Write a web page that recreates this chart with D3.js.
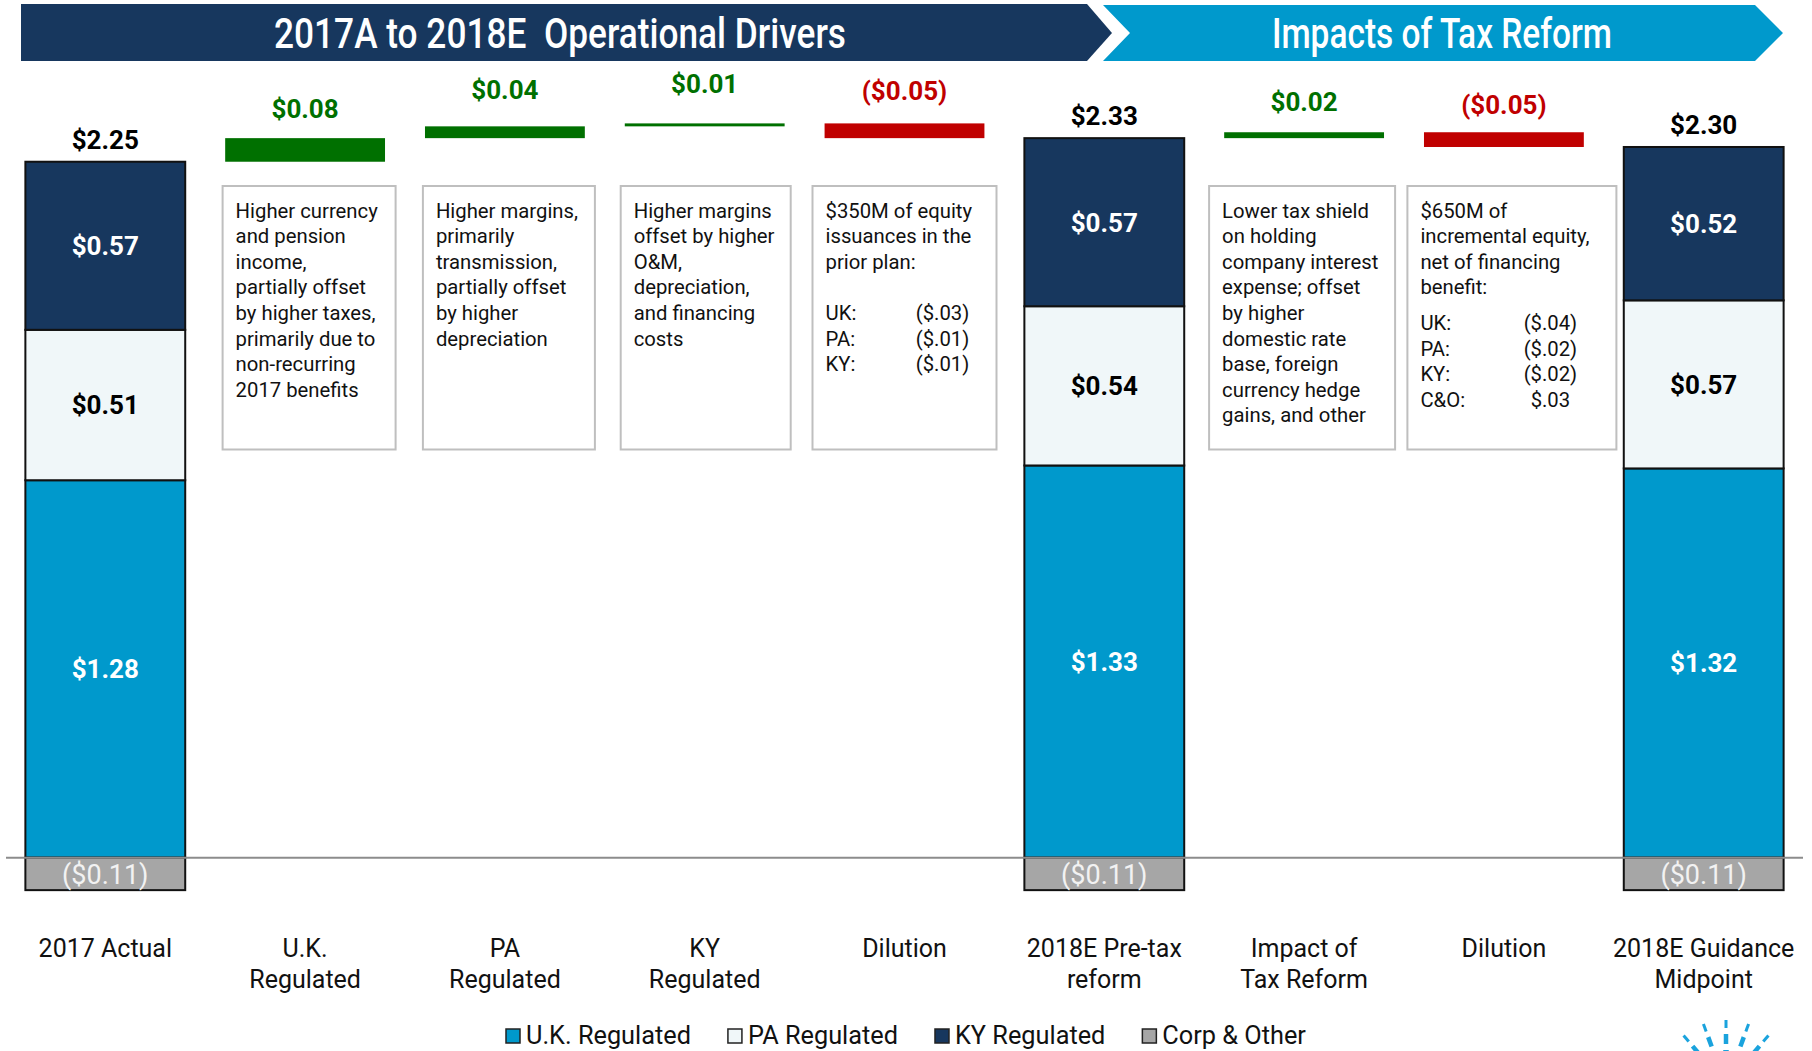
<!DOCTYPE html>
<html>
<head>
<meta charset="utf-8">
<script src="https://cdn.jsdelivr.net/npm/d3@7"></script>
<style>
  html, body { margin: 0; padding: 0; background: #fff; }
  svg { display: block; font-family: Roboto, "Open Sans", sans-serif; }
</style>
</head>
<body>
<svg id="chart" width="1812" height="1051"></svg>
<script>
// ---------------- DATA ----------------
const categoryLines = [
  ["2017 Actual"],
  ["U.K.", "Regulated"],
  ["PA", "Regulated"],
  ["KY", "Regulated"],
  ["Dilution"],
  ["2018E Pre-tax", "reform"],
  ["Impact of", "Tax Reform"],
  ["Dilution"],
  ["2018E Guidance", "Midpoint"]
];
// stacked (total) bars
const totalIndex   = [0, 5, 8];
const ukRegulated  = [1.28, 1.33, 1.32];
const paRegulated  = [0.51, 0.54, 0.57];
const kyRegulated  = [0.57, 0.57, 0.52];
const corpOther    = [-0.11, -0.11, -0.11];
// floating change bars
const changeIndex  = [1, 2, 3, 4, 6, 7];
const changeValues = [0.08, 0.04, 0.01, -0.05, 0.02, -0.05];
const changeLabels = ["$0.08", "$0.04", "$0.01", "($0.05)", "$0.02", "($0.05)"];
// legend
const seriesNames  = ["U.K. Regulated", "PA Regulated", "KY Regulated", "Corp & Other"];
// header
const headerLeft   = "2017A to 2018E  Operational Drivers";
const headerRight  = "Impacts of Tax Reform";
// annotation boxes
const boxText = [
  ["Higher currency", "and pension", "income,", "partially offset", "by higher taxes,", "primarily due to", "non-recurring", "2017 benefits"],
  ["Higher margins,", "primarily", "transmission,", "partially offset", "by higher", "depreciation"],
  ["Higher margins", "offset by higher", "O&M,", "depreciation,", "and financing", "costs"],
  ["$350M of equity", "issuances in the", "prior plan:"],
  ["Lower tax shield", "on holding", "company interest", "expense; offset", "by higher", "domestic rate", "base, foreign", "currency hedge", "gains, and other"],
  ["$650M of", "incremental equity,", "net of financing", "benefit:"]
];
const boxRowLabels = [[], [], [], ["UK:", "PA:", "KY:"], [], ["UK:", "PA:", "KY:", "C&O:"]];
const boxRowValues = [[], [], [], ["($.03)", "($.01)", "($.01)"], [], ["($.04)", "($.02)", "($.02)", "$.03"]];

// ---------------- STYLE / LAYOUT ----------------
const colors = { uk: "#0099CC", pa: "#F0F7F9", ky: "#17375E", corp: "#A6A6A6" };
const seriesColors = [colors.uk, colors.pa, colors.ky, colors.corp];
const labelColors  = ["#FFFFFF", "#000000", "#FFFFFF", "#F2F2F2"];
const green = "#007000", red = "#C00000";
const changeLabelGap = [30, 37, 40, 33, 31, 28];
const boxLayout = [ // offset of box centre from band centre, box width, extra gap before table (in lines)
  { dx: 4,  w: 173, gap: 0 },
  { dx: 4,  w: 172, gap: 0 },
  { dx: 1,  w: 170, gap: 0 },
  { dx: 0,  w: 184, gap: 1, valueDx: 130 },
  { dx: -2, w: 186, gap: 0 },
  { dx: 8,  w: 209, gap: 0.4, valueDx: 143 }
];
const bodySize = 20.3;

const svg = d3.select("#chart");
const x = d3.scaleBand().domain(d3.range(categoryLines.length))
  .range([5.4, 1803.6]).paddingInner(0.2).paddingOuter(0.1);
const y0 = 857.7, pxPerUnit = 294.9;
const y = d3.scaleLinear().domain([0, 2.5]).range([y0, y0 - 2.5 * pxPerUnit]);

// ---------------- HEADER ----------------
svg.append("path")
  .attr("d", "M21,4 L1087,4 L1112,33 L1087,61 L21,61 Z")
  .attr("fill", "#17375E");
svg.append("path")
  .attr("d", "M1103,5 L1755,5 L1783,33 L1755,61 L1103,61 L1130,33 Z")
  .attr("fill", "#0099CC");
svg.append("text").text(headerLeft)
  .attr("x", 274).attr("y", 48)
  .attr("textLength", 572).attr("lengthAdjust", "spacingAndGlyphs")
  .style("white-space", "pre")
  .attr("font-size", 42).attr("font-weight", 500).attr("fill", "#fff");
svg.append("text").text(headerRight)
  .attr("x", 1272).attr("y", 48)
  .attr("textLength", 340).attr("lengthAdjust", "spacingAndGlyphs")
  .attr("font-size", 42).attr("font-weight", 500).attr("fill", "#fff");

// ---------------- STACKED BARS ----------------
const rows = totalIndex.map((idx, i) => ({
  idx, uk: ukRegulated[i], pa: paRegulated[i], ky: kyRegulated[i], corp: corpOther[i]
}));
const keys = ["uk", "pa", "ky", "corp"];
const stack = d3.stack().keys(keys).offset(d3.stackOffsetDiverging)(rows);

const fmt = v => v < 0 ? "($" + Math.abs(v).toFixed(2) + ")" : "$" + v.toFixed(2);

stack.forEach((layer, k) => {
  const g = svg.append("g");
  g.selectAll("rect").data(layer).join("rect")
    .attr("x", d => x(d.data.idx))
    .attr("width", x.bandwidth())
    .attr("y", d => y(d[1]))
    .attr("height", d => y(d[0]) - y(d[1]))
    .attr("fill", seriesColors[k])
    .attr("stroke", "#111").attr("stroke-width", 2);
  g.selectAll("text").data(layer).join("text")
    .attr("x", d => x(d.data.idx) + x.bandwidth() / 2)
    .attr("y", d => (y(d[0]) + y(d[1])) / 2)
    .attr("dy", "0.36em")
    .attr("text-anchor", "middle")
    .attr("font-size", k === 3 ? 27 : 26)
    .attr("font-weight", k === 3 ? 400 : 700)
    .attr("fill", labelColors[k])
    .text(d => fmt(d.data[keys[k]]));
});

// totals above
svg.append("g").selectAll("text").data(rows).join("text")
  .attr("x", d => x(d.idx) + x.bandwidth() / 2)
  .attr("y", d => y(d.uk + d.pa + d.ky) - 13)
  .attr("text-anchor", "middle")
  .attr("font-size", 26).attr("font-weight", 700).attr("fill", "#000")
  .text(d => fmt(d.uk + d.pa + d.ky + d.corp));

// ---------------- FLOATING CHANGE BARS ----------------
const changes = [];
{
  let level = ukRegulated[0] + paRegulated[0] + kyRegulated[0];
  let ci = 0;
  for (let idx = 1; idx < categoryLines.length; idx++) {
    const t = totalIndex.indexOf(idx);
    if (t >= 0) { level = ukRegulated[t] + paRegulated[t] + kyRegulated[t]; continue; }
    const v = changeValues[ci];
    changes.push({ idx, v, from: level, to: level + v, label: changeLabels[ci], gap: changeLabelGap[ci] });
    level += v; ci++;
  }
}
const cg = svg.append("g");
cg.selectAll("rect").data(changes).join("rect")
  .attr("x", d => x(d.idx))
  .attr("width", x.bandwidth())
  .attr("y", d => y(Math.max(d.from, d.to)))
  .attr("height", d => Math.abs(y(d.from) - y(d.to)))
  .attr("fill", d => d.v >= 0 ? green : red);
cg.selectAll("text").data(changes).join("text")
  .attr("x", d => x(d.idx) + x.bandwidth() / 2)
  .attr("y", d => y(Math.max(d.from, d.to)) - d.gap)
  .attr("dy", "0.36em")
  .attr("text-anchor", "middle")
  .attr("font-size", 26).attr("font-weight", 700)
  .attr("fill", d => d.v >= 0 ? green : red)
  .text(d => d.label);

// ---------------- ANNOTATION BOXES ----------------
const boxTop = 186, boxBottom = 449.5, lineH = 25.6, firstLine = 210.3;
changes.forEach((c, i) => {
  const L = boxLayout[i];
  const cx = x(c.idx) + x.bandwidth() / 2 + L.dx;
  const bx = cx - L.w / 2;
  const g = svg.append("g");
  g.append("rect")
    .attr("x", bx).attr("y", boxTop)
    .attr("width", L.w).attr("height", boxBottom - boxTop)
    .attr("fill", "#fff").attr("stroke", "#BFBFBF").attr("stroke-width", 2);
  boxText[i].forEach((line, j) => {
    g.append("text").text(line)
      .attr("x", bx + 13).attr("y", firstLine + j * lineH)
      .attr("dy", "0.36em")
      .attr("font-size", bodySize).attr("fill", "#111");
  });
  const start = firstLine + (boxText[i].length + L.gap) * lineH;
  boxRowLabels[i].forEach((lab, j) => {
    g.append("text").text(lab)
      .attr("x", bx + 13).attr("y", start + j * lineH)
      .attr("dy", "0.36em").attr("font-size", bodySize).attr("fill", "#111");
    g.append("text").text(boxRowValues[i][j])
      .attr("x", bx + L.valueDx).attr("y", start + j * lineH)
      .attr("dy", "0.36em").attr("text-anchor", "middle")
      .attr("font-size", bodySize).attr("fill", "#111");
  });
});

// ---------------- BASELINE ----------------
svg.append("line")
  .attr("x1", 6).attr("x2", 1803)
  .attr("y1", y(0)).attr("y2", y(0))
  .attr("stroke", "#8C8C8C").attr("stroke-width", 2);

// ---------------- CATEGORY LABELS ----------------
const lg = svg.append("g");
categoryLines.forEach((lines, i) => {
  lines.forEach((t, j) => {
    lg.append("text").text(t)
      .attr("x", x(i) + x.bandwidth() / 2)
      .attr("y", 947.6 + j * 31.2)
      .attr("dy", "0.36em")
      .attr("text-anchor", "middle")
      .attr("font-size", 25).attr("fill", "#111");
  });
});

// ---------------- LEGEND ----------------
{
  let lx = 506;
  const ly = 1035;
  seriesNames.forEach((name, i) => {
    svg.append("rect")
      .attr("x", lx).attr("y", ly - 6).attr("width", 14).attr("height", 14)
      .attr("fill", seriesColors[i]).attr("stroke", "#222").attr("stroke-width", 1.5);
    const t = svg.append("text").text(name)
      .attr("x", lx + 20).attr("y", ly).attr("dy", "0.36em")
      .attr("font-size", 25.3).attr("fill", "#111");
    lx += 20 + t.node().getComputedTextLength() + 37;
  });
}

// ---------------- LOGO (partial) ----------------
{
  const lcx = 1726, lcy = 1086;
  const g = svg.append("g").attr("stroke", "#1AA3DD").attr("stroke-linecap", "butt");
  [-60, -40, -20, 0, 20, 40, 60].forEach(a => {
    const r = a * Math.PI / 180;
    [[58, 66, 3], [42, 52, 4.5], [26, 36, 5.5]].forEach(([r0, r1, w]) => {
      g.append("line")
        .attr("x1", lcx + r0 * Math.sin(r)).attr("y1", lcy - r0 * Math.cos(r))
        .attr("x2", lcx + r1 * Math.sin(r)).attr("y2", lcy - r1 * Math.cos(r))
        .attr("stroke-width", w);
    });
  });
}
</script>
</body>
</html>
